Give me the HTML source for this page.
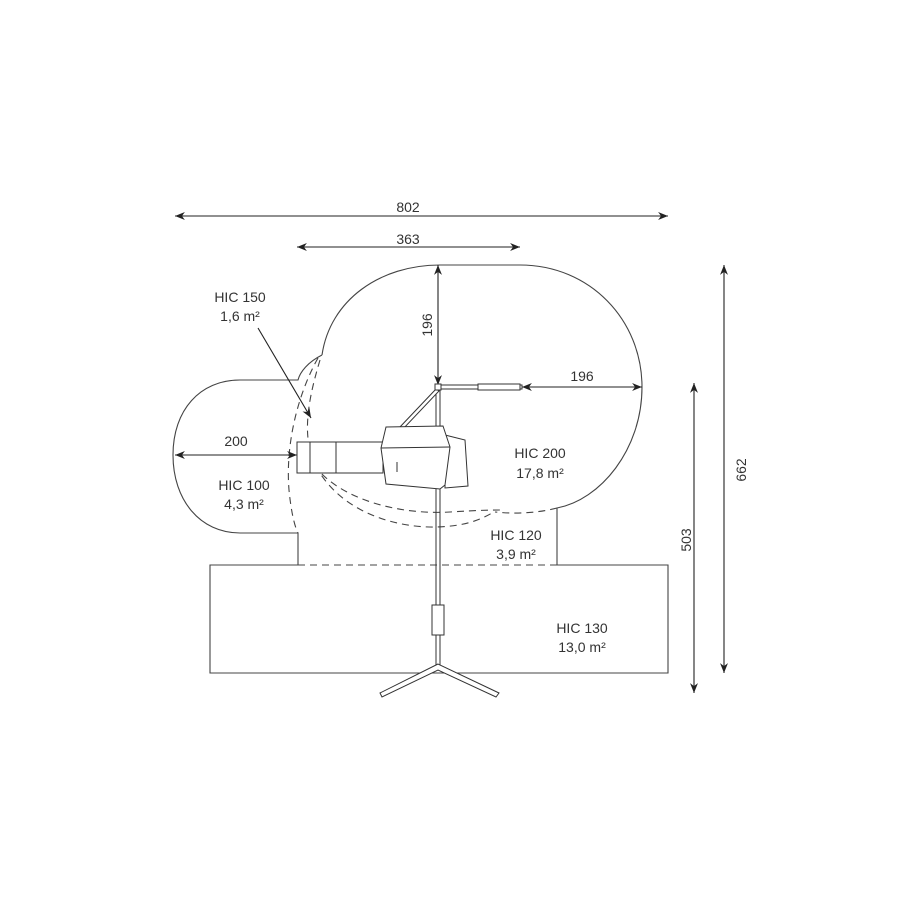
<!DOCTYPE html>
<html><head><style>
body{margin:0;background:#fff}
svg text{font-family:"Liberation Sans",sans-serif;font-size:14px;fill:#333}
</style></head><body>
<svg width="900" height="900" viewBox="0 0 900 900" xmlns="http://www.w3.org/2000/svg">
<defs>
<marker id="a" viewBox="0 0 10 10" refX="10" refY="5" markerWidth="9" markerHeight="9" orient="auto-start-reverse"><path d="M0,1 L10,5 L0,9 L3,5 z" fill="#222"/></marker>
</defs>
<g fill="none" stroke="#444" stroke-width="1.1">
<path d="M322,355 C330,300 380,265 440,265 L520,265 C590,265 642,320 642,387 C642,450 600,500 557,508 L557,565"/>
<path d="M557,508 C530,515 505,513 495,512" stroke-dasharray="7,5"/>
<path d="M322,355 C308,362 300,372 298,380 L240,380 C200,380 173,410 173,455 C173,500 200,533 240,533 L298,533 L298,565"/>
<path d="M298,565 L210,565 L210,673 L668,673 L668,565 L557,565"/>
<g stroke-dasharray="7,5">
<path d="M298,565 L557,565"/>
<path d="M318,358 C300,390 285,440 289,490 C291,510 294,525 298,533"/>
<path d="M320,360 C308,400 300,440 318,470 C345,515 400,528 437,527 C465,526 480,520 492,513"/>
<path d="M314,465 C340,500 400,515 450,512 C480,510 495,510 503,510"/>
</g>
</g>
<g stroke="#222" stroke-width="1.1" fill="none">
<line x1="175" y1="216" x2="668" y2="216" marker-start="url(#a)" marker-end="url(#a)"/>
<line x1="297" y1="247" x2="520" y2="247" marker-start="url(#a)" marker-end="url(#a)"/>
<line x1="438" y1="265" x2="438" y2="385" marker-start="url(#a)" marker-end="url(#a)"/>
<line x1="522" y1="387" x2="642" y2="387" marker-start="url(#a)" marker-end="url(#a)"/>
<line x1="175" y1="455" x2="297" y2="455" marker-start="url(#a)" marker-end="url(#a)"/>
<line x1="724" y1="265" x2="724" y2="673" marker-start="url(#a)" marker-end="url(#a)"/>
<line x1="694" y1="383" x2="694" y2="693" marker-start="url(#a)" marker-end="url(#a)"/>
<line x1="258" y1="328" x2="311" y2="418" marker-end="url(#a)"/>
</g>
<g stroke="#333" stroke-width="1" fill="#fff">
<line x1="436" y1="387" x2="436" y2="668"/><line x1="440" y1="387" x2="440" y2="668"/>
<rect x="432" y="605" width="12" height="30"/>
<path d="M438,664 L380,693 L382,697 L438,670 L496,697 L499,693 Z"/>
<path d="M436,389 L399,428 L403,429 L439,391 Z"/>
<rect x="440" y="385" width="82" height="4"/>
<rect x="478" y="384" width="42" height="6"/>
<rect x="435" y="384" width="6" height="6"/>
<rect x="297" y="442" width="86" height="31"/>
<line x1="310" y1="442" x2="310" y2="473"/><line x1="336" y1="442" x2="336" y2="473"/>
<path d="M445,435 L465,440 L468,486 L445,488 Z"/>
<path d="M386,427 L443,426 L450,447 L445,485 L440,489 L386,484 L381,448 Z"/>
<line x1="381" y1="448" x2="450" y2="447"/>
<line x1="397" y1="462" x2="397" y2="472"/>
</g>
<g text-anchor="middle">
<text x="408" y="212">802</text>
<text x="408" y="244">363</text>
<text x="582" y="381">196</text>
<text x="236" y="446">200</text>
<text transform="translate(432,325) rotate(-90)">196</text>
<text transform="translate(746,470) rotate(-90)">662</text>
<text transform="translate(691,540) rotate(-90)">503</text>
<text x="240" y="302">HIC 150</text><text x="240" y="321">1,6 m²</text>
<text x="540" y="458">HIC 200</text><text x="540" y="478">17,8 m²</text>
<text x="244" y="490">HIC 100</text><text x="244" y="509">4,3 m²</text>
<text x="516" y="540">HIC 120</text><text x="516" y="559">3,9 m²</text>
<text x="582" y="633">HIC 130</text><text x="582" y="652">13,0 m²</text>
</g>
</svg>
</body></html>
